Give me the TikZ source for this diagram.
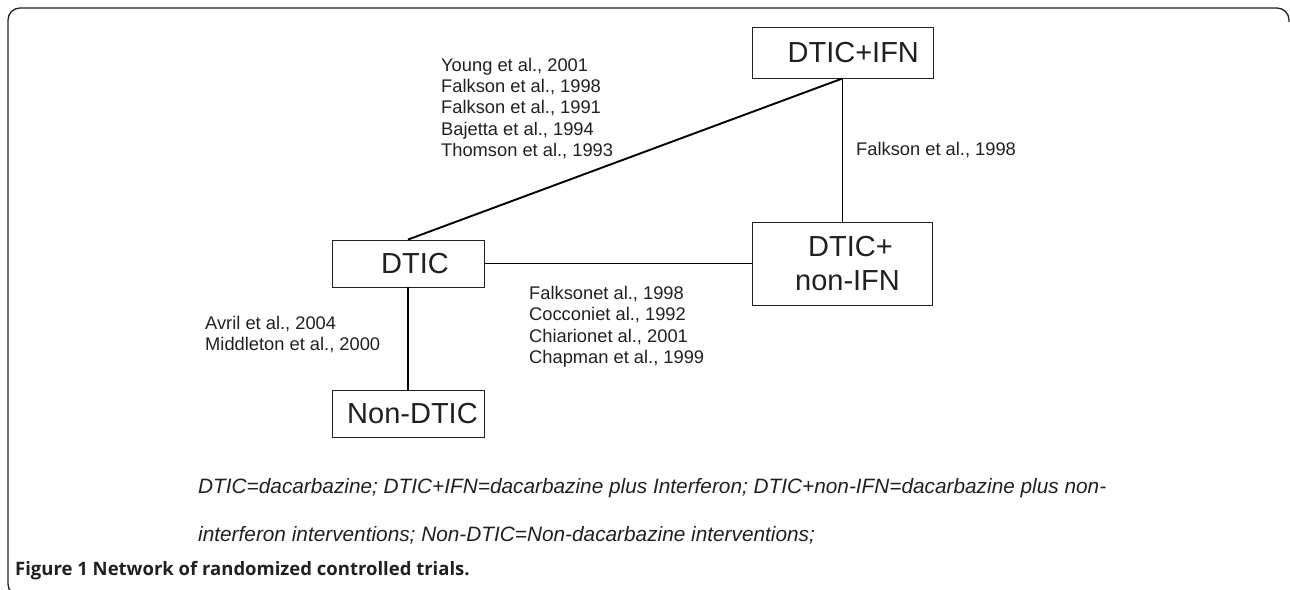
\documentclass[tikz,border=0pt]{standalone}
\usepackage{fontspec}
\setmainfont{Liberation Sans}
\newfontfamily\capfont{Open Sans}
\definecolor{ink}{HTML}{231F20}
\begin{document}
\begin{tikzpicture}[x=1pt,y=-1pt,
  box/.style={draw=ink, line width=0.9pt, rectangle, inner sep=0pt,
    font=\fontsize{29}{34.5}\selectfont, text=ink},
  cite/.style={anchor=base west, inner sep=0pt,
    font=\fontsize{18.3}{21}\selectfont, text=ink},
  link/.style={draw=black, line width=1.9pt},
  note/.style={anchor=base west, inner sep=0pt,
    font=\fontsize{20.8}{24}\selectfont\itshape, text=ink},
  captxt/.style={anchor=base west, inner sep=0pt,
    font=\capfont\bfseries\fontsize{18.5}{22}\selectfont, text=ink}]
\useasboundingbox (0,0) rectangle (1290,589);
\clip (0,0) rectangle (1290,589);
% frame
\draw[ink, line width=1.3pt, rounded corners=12pt]
  (60,596) -- (8,596) -- (8,8) -- (1289,8) -- (1289,22);
% nodes
\node[box, minimum width=181pt, minimum height=51pt] (ifn) at (842.5,52.5) {\hspace*{21.5pt}DTIC+IFN};
\node[box, minimum width=152pt, minimum height=47pt] (dtic) at (408,263.5) {\hspace*{14pt}DTIC};
\node[box, minimum width=180pt, minimum height=83pt, align=center] (nonifn) at (842.5,263.5)
  {\hspace*{16pt}DTIC+\\\hspace*{10pt}non-IFN};
\node[box, minimum width=152pt, minimum height=47pt] (nondtic) at (408,413.5) {\hspace*{9pt}Non-DTIC};
% connectors
\draw[link] (dtic.north) -- (ifn.south);
\draw[link] (ifn.south) -- (nonifn.north);
\draw[link] (dtic.east) -- (nonifn.west);
\draw[link] (dtic.south) -- (nondtic.north);
% citations
\node[cite] (y1) at (441,71.5) {Young et al., 2001};
\node[cite] (y2) at (441,92.7) {Falkson et al., 1998};
\node[cite] (y3) at (441,113.9) {Falkson et al., 1991};
\node[cite] (y4) at (441,135.1) {Bajetta et al., 1994};
\node[cite] (y5) at (441,156.3) {Thomson et al., 1993};
\node[cite] (f1) at (856,155.5) {Falkson et al., 1998};
\node[cite] (c1) at (529,299.5) {Falksonet al., 1998};
\node[cite] (c2) at (529,320.7) {Cocconiet al., 1992};
\node[cite] (c3) at (529,342) {Chiarionet al., 2001};
\node[cite] (c4) at (529,363) {Chapman et al., 1999};
\node[cite] (a1) at (205,329) {Avril et al., 2004};
\node[cite] (a2) at (205,350) {Middleton et al., 2000};
% legend
\node[note] (n1) at (198,493) {DTIC=dacarbazine; DTIC+IFN=dacarbazine plus Interferon; DTIC+non-IFN=dacarbazine plus non-};
\node[note] (n2) at (198,541) {interferon interventions; Non-DTIC=Non-dacarbazine interventions;};
\node[captxt] (cap) at (15,575) {Figure 1 Network of randomized controlled trials.};
\end{tikzpicture}
\end{document}
